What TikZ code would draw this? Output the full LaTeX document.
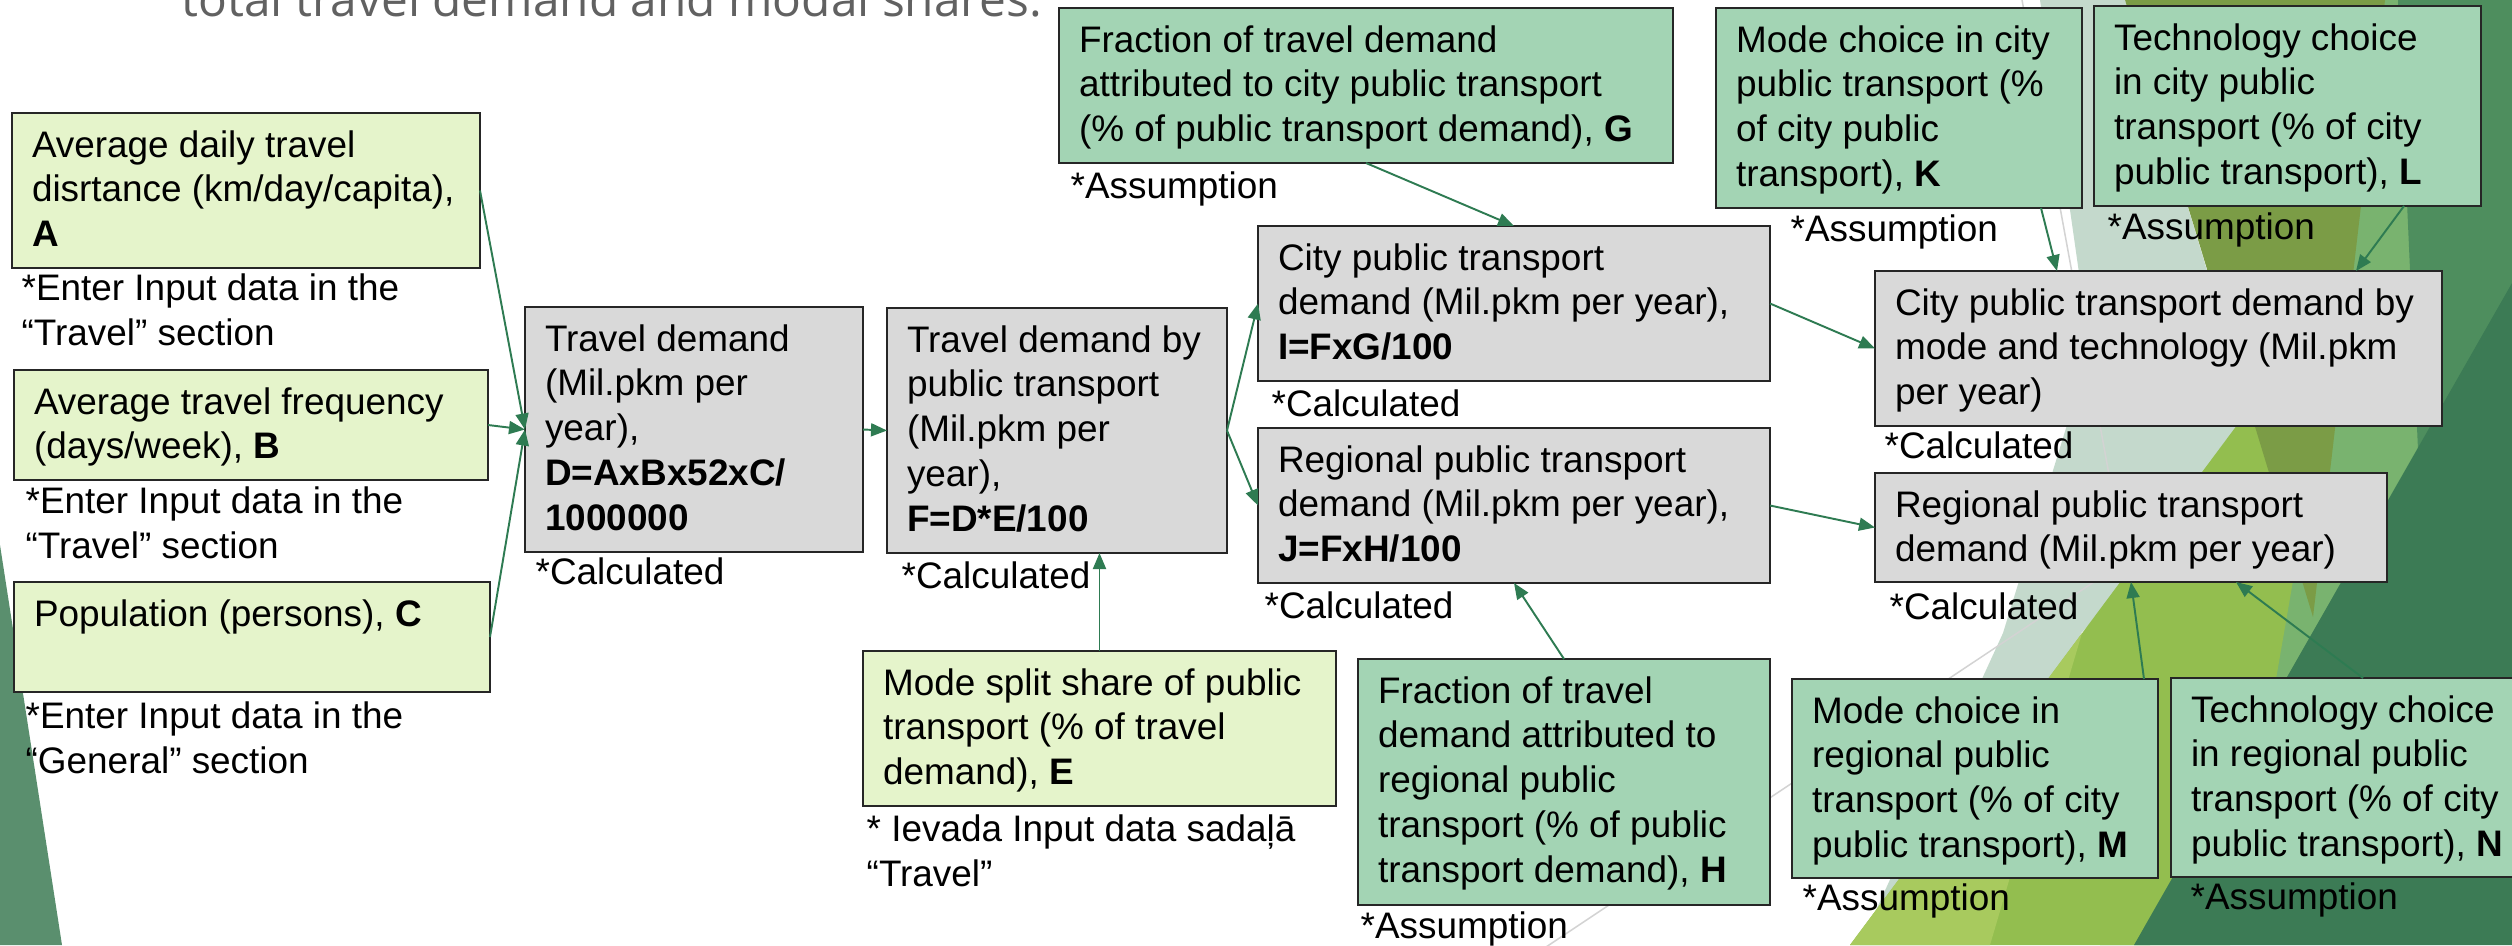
\documentclass[tikz,border=0pt]{standalone}
\usepackage{fontspec}
\setmainfont{Liberation Sans}
\newfontfamily\headfont{Open Sans}
\usetikzlibrary{arrows.meta,positioning}
\definecolor{inputc}{HTML}{E5F4CB}
\definecolor{assumc}{HTML}{A3D4B4}
\definecolor{calcc}{HTML}{D9D9D9}
\definecolor{arrc}{HTML}{2E7B52}
% backdrop colours
\definecolor{leafc}{HTML}{5A8F6E}
\definecolor{sagec}{HTML}{C4D9CC}
\definecolor{olivec}{HTML}{7B9C46}
\definecolor{lgreenc}{HTML}{79B36F}
\definecolor{ygreenc}{HTML}{93BE4F}
\definecolor{pygreenc}{HTML}{A8CA5E}
\definecolor{mgreenc}{HTML}{4E8E5E}
\definecolor{dgreenc}{HTML}{3C7B55}
\definecolor{linec}{HTML}{D3D3D3}
\tikzset{
  blk/.style 2 args = { draw=black!85, line width=0.75pt, anchor=north west,
    inner xsep=2mm, inner ysep=1.25mm, outer sep=0pt,
    execute at begin node={\begin{minipage}[t][\dimexpr #2mm/10-2.5mm\relax][t]{\dimexpr #1mm/10-4mm\relax}\strut},
    execute at end node={\end{minipage}} },
  inbox/.style 2 args = { blk={#1}{#2}, fill=inputc },   % input data
  asbox/.style 2 args = { blk={#1}{#2}, fill=assumc },   % assumptions
  cbox/.style 2 args  = { blk={#1}{#2}, fill=calcc },    % calculated
  note/.style = { anchor=north west, inner sep=0pt,
    execute at begin node={\begin{minipage}[t]{50mm}\strut},
    execute at end node={\end{minipage}} },
  arr/.style = { color=arrc, line width=0.55pt, -{Triangle[length=1.6mm,width=1.3mm]} }
}
\begin{document}
\begin{tikzpicture}[x=0.1mm, y=-0.1mm, every node/.style={font=\fontsize{10.5}{12.8}\selectfont}]
  \useasboundingbox (0,0) rectangle (2512,945);
  \clip (0,0) rectangle (2512,945);

  % slide backdrop
  \fill[leafc] (0,545) -- (62,945) -- (0,945) -- cycle;
  \fill[lgreenc] (2300,0) -- (2420,0) -- (2445,470) -- (2150,945) -- (2100,945) -- cycle;
  \fill[sagec] (2040,0) -- (2125,0) -- (2262,452) -- (2081,633) -- (1990,945)
    -- (1860,945) -- (2003,633) -- (2090,350) -- cycle;
  \fill[ygreenc] (2345,280) -- (2230,945) -- (1850,945) -- cycle;
  \fill[pygreenc] (2082,633) -- (1990,945) -- (1850,945) -- cycle;
  \fill[olivec] (2125,0) -- (2385,0) -- (2313,617) -- cycle;
  \fill[mgreenc] (2398,0) -- (2512,0) -- (2512,300) -- (2418,450) -- cycle;
  \fill[dgreenc] (2134,945) -- (2512,283) -- (2512,945) -- cycle;
  \draw[linec, line width=0.43pt] (2022,0) -- (2110,480);
  \draw[linec, line width=0.43pt] (2250,478) -- (1540,951);

  \node[anchor=base west, inner sep=0pt, text=black!62,
    font=\headfont\fontsize{13.6}{16}\selectfont] (ttl) at (181,16)
    {total travel demand and modal shares.};

  % inputs
  \node[inbox={468}{155}] (A) at (12,113) {Average daily travel\\disrtance (km/day/capita),\\\textbf{A}};
  \node[inbox={474}{110}] (B) at (14,370) {Average travel frequency\\(days/week), \textbf{B}};
  \node[inbox={476}{110}] (C) at (14,582) {Population (persons), \textbf{C}};
  \node[inbox={473}{155}] (E) at (863,651) {Mode split share of public\\transport (\% of travel\\demand), \textbf{E}};

  % calculated
  \node[cbox={338}{245}] (D) at (525,307) {Travel demand\\(Mil.pkm per\\year),\\\textbf{D=AxBx52xC/}\\\textbf{1000000}};
  \node[cbox={340}{245}] (F) at (887,308) {Travel demand by\\public transport\\(Mil.pkm per\\year),\\\textbf{F=D*E/100}};
  \node[cbox={512}{155}] (I) at (1258,226) {City public transport\\demand (Mil.pkm per year),\\\textbf{I=FxG/100}};
  \node[cbox={512}{155}] (J) at (1258,428) {Regional public transport\\demand (Mil.pkm per year),\\\textbf{J=FxH/100}};
  \node[cbox={567}{155}] (cityMT) at (1875,271) {City public transport demand by\\mode and technology (Mil.pkm\\per year)};
  \node[cbox={512}{109}] (regT) at (1875,473) {Regional public transport\\demand (Mil.pkm per year)};

  % assumptions
  \node[asbox={614}{155}] (G) at (1059,8) {Fraction of travel demand\\attributed to city public transport\\(\% of public transport demand), \textbf{G}};
  \node[asbox={412}{246}] (H) at (1358,659) {Fraction of travel\\demand attributed to\\regional public\\transport (\% of public\\transport demand), \textbf{H}};
  \node[asbox={366}{200}] (K) at (1716,8) {Mode choice in city\\public transport (\%\\of city public\\transport), \textbf{K}};
  \node[asbox={387}{200}] (L) at (2094,6) {Technology choice\\in city public\\transport (\% of city\\public transport), \textbf{L}};
  \node[asbox={366}{199}] (M) at (1792,679) {Mode choice in\\regional public\\transport (\% of city\\public transport), \textbf{M}};
  \node[asbox={360}{199}] (N) at (2171,678) {Technology choice\\in regional public\\transport (\% of city\\public transport), \textbf{N}};

  % source notes
  \node[note, below right=0mm and 0.9mm of A.south west] (nA) {*Enter Input data in the\\“Travel” section};
  \node[note, below right=0.15mm and 1.1mm of B.south west] (nB) {*Enter Input data in the\\“Travel” section};
  \node[note, below right=0.45mm and 1.1mm of C.south west] (nC) {*Enter Input data in the\\“General” section};
  \node[note, below right=0.35mm and 0.3mm of E.south west] (nE) {* Ievada Input data sadaļā\\“Travel”};
  \node[note, below right=0mm and 1mm of D.south west] (nD) {*Calculated};
  \node[note, below right=0.3mm and 1.4mm of F.south west] (nF) {*Calculated};
  \node[note, below right=0.35mm and 1.3mm of I.south west] (nI) {*Calculated};
  \node[note, below right=0.35mm and 0.6mm of J.south west] (nJ) {*Calculated};
  \node[note, below right=0mm and 0.9mm of cityMT.south west] (nCM) {*Calculated};
  \node[note, below right=0.55mm and 1.4mm of regT.south west] (nRT) {*Calculated};
  \node[note, below right=0.35mm and 1.1mm of G.south west] (nG) {*Assumption};
  \node[note, below right=0.15mm and 0.2mm of H.south west] (nH) {*Assumption};
  \node[note, below right=0.15mm and 7.4mm of K.south west] (nK) {*Assumption};
  \node[note, below right=0.15mm and 1.3mm of L.south west] (nL) {*Assumption};
  \node[note, below right=0mm and 1mm of M.south west] (nM) {*Assumption};
  \node[note, below right=0mm and 1.9mm of N.south west] (nN) {*Assumption};

  \path[arr] (A.east) edge (D.west);
  \path[arr] (B.east) edge (D.west);
  \path[arr] (C.east) edge (D.west);
  \path[arr] (D.east) edge (F.west);
  \path[arr] (E.north) edge (E.north |- F.south);
  \path[arr] (F.east) edge (I.west);
  \path[arr] (F.east) edge (J.west);
  \path[arr] (G.south) edge (I.north);
  \path[arr] (H.north) edge (J.south);
  \path[arr] (I.east) edge (cityMT.west);
  \path[arr] (J.east) edge (regT.west);
  \path[arr] ([xshift=-4.1mm]K.south east) edge ([xshift=18.2mm]cityMT.north west);
  \path[arr] ([xshift=-7.7mm]L.south east) edge ([xshift=-8.6mm]cityMT.north east);
  \path[arr] ([xshift=-1.4mm]M.north east) edge (regT.south);
  \path[arr] ([xshift=19.2mm]N.north west) edge ([xshift=-15.1mm]regT.south east);
\end{tikzpicture}
\end{document}
